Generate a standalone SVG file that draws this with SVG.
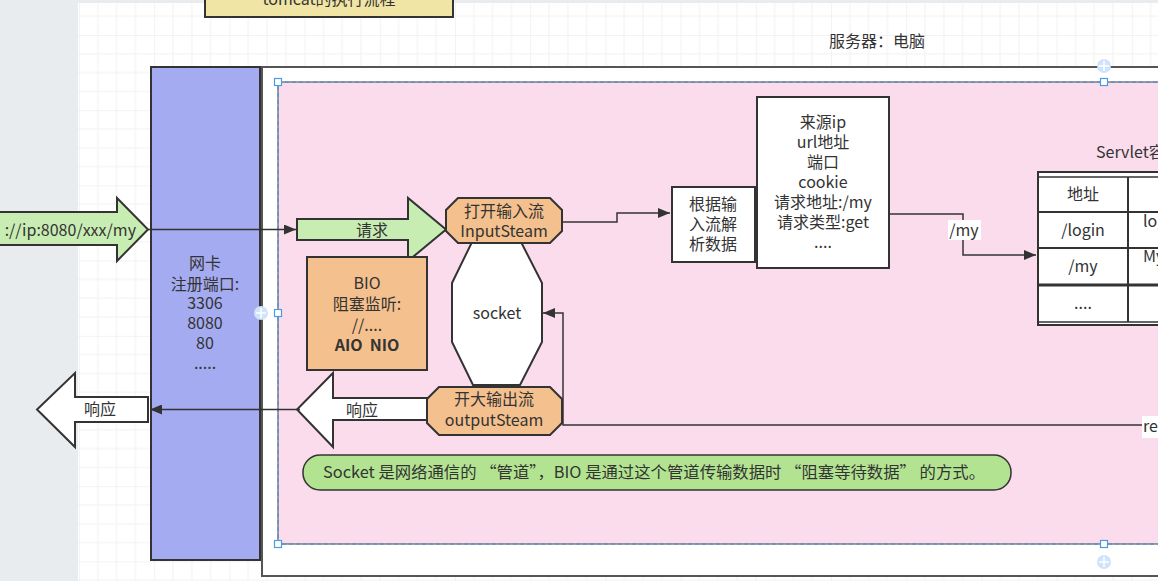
<svg xmlns="http://www.w3.org/2000/svg" width="1158" height="581" viewBox="0 0 1158 581">
  <style>
    text { font-family: "Noto Sans CJK SC", "Liberation Sans", sans-serif; fill: #333; font-size: 16px; }
    .c { text-anchor: middle; }
    .box { stroke: #333; stroke-width: 2; }
    .orange { fill: #f4c08d; }
    .wire { fill: none; stroke: #333; stroke-width: 1.5; }
    .handle { fill: #fff; stroke: #4a9be8; stroke-width: 1.2; }
    .hover { fill: #cfe3fb; }
    .plus { stroke: #fff; stroke-width: 1.5; }
  </style>
  <defs>
    <pattern id="grid" patternUnits="userSpaceOnUse" x="79" y="35" width="75.2" height="75.2">
      <path d="M0 18.8H75.2M0 37.6H75.2M0 56.4H75.2M18.8 0V75.2M37.6 0V75.2M56.4 0V75.2" stroke="#f2f2f2" stroke-width="1"/>
      <path d="M0 0H75.2M0 0V75.2" stroke="#e8e8e8" stroke-width="1"/>
    </pattern>
    <marker id="arr" viewBox="0 0 12 10" refX="12" refY="5" markerWidth="12" markerHeight="10" markerUnits="userSpaceOnUse" orient="auto">
      <path d="M0 0L12 5L0 10z" fill="#333"/>
    </marker>
  </defs>

  <!-- canvas -->
  <rect x="0" y="0" width="1158" height="581" fill="#e9ecee"/>
  <rect x="78" y="3" width="1080" height="578" fill="#fff"/>
  <rect x="78" y="3" width="1080" height="578" fill="url(#grid)"/>

  <!-- title note -->
  <g id="title">
    <rect x="205" y="-20" width="248" height="37" fill="#f0e5a5" class="box"/>
    <text x="329" y="5" class="c" font-size="18">tomcat的执行流程</text>
  </g>

  <g id="server-label">
    <text x="877" y="47" class="c">服务器：电脑</text>
  </g>

  <!-- server container -->
  <g id="server">
    <rect x="262" y="67" width="920" height="509" fill="#fff" stroke="#555" stroke-width="2"/>
  </g>

  <!-- tomcat area -->
  <g id="tomcat">
    <rect x="278" y="82" width="900" height="462" fill="#fadcec" stroke="#444" stroke-width="1"/>
    <rect x="278" y="82" width="900" height="462" fill="none" stroke="#3a8fe0" stroke-width="1" stroke-dasharray="4 3"/>
  </g>

  <!-- network card -->
  <g id="nic">
    <rect x="151" y="67" width="109" height="493" fill="#a5abf0" class="box"/>
    <text x="205" y="269" class="c">网卡</text>
    <text x="205" y="290" class="c">注册端口:</text>
    <text x="205" y="309" class="c">3306</text>
    <text x="205" y="329" class="c">8080</text>
    <text x="205" y="349" class="c">80</text>
    <text x="205" y="369" class="c">.....</text>
  </g>

  <!-- incoming request arrow -->
  <g id="req-outer">
    <path d="M-5 212H117V198L148 229.5L117 261V245H-5z" fill="#c8edb3" class="box"/>
    <text x="136" y="236" text-anchor="end" font-size="18.5">://ip:8080/xxx/my</text>
  </g>

  <!-- outgoing response arrow -->
  <g id="resp-outer">
    <path d="M148 397H75V373L37 409.5L75 447V422H148z" fill="#fff" class="box"/>
    <text x="100" y="415" class="c">响应</text>
  </g>

  <g id="req-inner">
    <path d="M297 219H408V198L446 229.5L408 261V240H297z" fill="#c8edb3" class="box"/>
    <text x="372" y="236" class="c">请求</text>
  </g>

  <g id="resp-inner">
    <path d="M428 398H333V373L297 409.5L333 447V420H428z" fill="#fff" class="box"/>
    <text x="362" y="416" class="c">响应</text>
  </g>

  <g id="bio">
    <rect x="307" y="257" width="120" height="113" class="box orange"/>
    <text x="367" y="289" class="c">BIO</text>
    <text x="367" y="310" class="c">阻塞监听:</text>
    <text x="367" y="331" class="c">//....</text>
    <text x="367" y="351" class="c" font-weight="bold" font-family="Liberation Sans, sans-serif" xml:space="preserve">AIO  NIO</text>
  </g>

  <g id="socket">
    <path d="M473 240H520L542 283V342L520 385H473L452 342V283z" fill="#fff" class="box"/>
    <text x="497" y="319" class="c">socket</text>
  </g>

  <g id="input-stream">
    <path d="M458 198H550L562 210V231L550 243H458L446 231V210z" class="box orange"/>
    <text x="504" y="217" class="c">打开输入流</text>
    <text x="504" y="237" class="c">InputSteam</text>
  </g>

  <g id="output-stream">
    <path d="M439 387H550L562 399V423L550 435H439L427 423V399z" class="box orange"/>
    <text x="494" y="405" class="c">开大输出流</text>
    <text x="494" y="426" class="c">outputSteam</text>
  </g>

  <g id="parse">
    <rect x="672" y="187" width="83" height="75" fill="#fff" class="box"/>
    <text x="713" y="210" class="c">根据输</text>
    <text x="713" y="230" class="c">入流解</text>
    <text x="713" y="250" class="c">析数据</text>
  </g>

  <g id="request-info">
    <rect x="757" y="97" width="132" height="171" fill="#fff" class="box"/>
    <text x="823" y="128" class="c">来源ip</text>
    <text x="823" y="148" class="c">url地址</text>
    <text x="823" y="168" class="c">端口</text>
    <text x="823" y="188" class="c">cookie</text>
    <text x="823" y="208" class="c">请求地址:/my</text>
    <text x="823" y="228" class="c">请求类型:get</text>
    <text x="823" y="248" class="c">....</text>
  </g>

  <g id="servlet-container">
    <text x="1096" y="158">Servlet容器</text>
    <rect x="1038" y="172" width="140" height="153" fill="#fff" class="box"/>
    <path d="M1038 177H1178M1038 322H1178" stroke="#333" stroke-width="1.5"/>
    <path d="M1038 212H1178M1038 248H1178" stroke="#333" stroke-width="2"/>
    <path d="M1038 285H1178" stroke="#333" stroke-width="3"/>
    <path d="M1128 177V322" stroke="#333" stroke-width="2"/>
    <text x="1083" y="200" class="c">地址</text>
    <text x="1083" y="236" class="c">/login</text>
    <text x="1083" y="272" class="c">/my</text>
    <text x="1083" y="309" class="c">....</text>
    <text x="1143" y="227">login</text>
    <text x="1143" y="262">MyServlet</text>
  </g>

  <g id="note">
    <rect x="303" y="455" width="708" height="35" rx="17" fill="#b2e391" stroke="#333" stroke-width="1.5"/>
    <text x="323" y="478" textLength="662" lengthAdjust="spacingAndGlyphs">Socket 是网络通信的 “管道”，BIO 是通过这个管道传输数据时 “阻塞等待数据” 的方式。</text>
  </g>

  <!-- connectors -->
  <g id="connectors">
    <path class="wire" d="M148 229.5H296" marker-end="url(#arr)"/>
    <path class="wire" d="M300 409.5H150" marker-end="url(#arr)"/>
    <path class="wire" d="M562 222H617V213H670" marker-end="url(#arr)"/>
    <path class="wire" d="M889 214H963V255H1036" marker-end="url(#arr)"/>
    <path class="wire" d="M1143 425H563V313H543" marker-end="url(#arr)"/>
    <rect x="948" y="220" width="33" height="20" fill="#fff"/>
    <text x="964" y="236" class="c">/my</text>
    <rect x="1142" y="416" width="20" height="22" fill="#fff"/>
    <text x="1143" y="432">re</text>
  </g>

  <!-- selection handles -->
  <g id="handles">
    <rect class="handle" x="274.5" y="78.5" width="7" height="7"/>
    <rect class="handle" x="274.5" y="309.5" width="7" height="7"/>
    <rect class="handle" x="274.5" y="540.5" width="7" height="7"/>
    <rect class="handle" x="1100.5" y="78.5" width="7" height="7"/>
    <rect class="handle" x="1100.5" y="540.5" width="7" height="7"/>
    <circle class="hover" cx="1104" cy="66" r="7"/>
    <path class="plus" d="M1099 66H1109M1104 61V71"/>
    <circle class="hover" cx="261" cy="313" r="7"/>
    <path class="plus" d="M256 313H266M261 308V318"/>
    <circle class="hover" cx="1104" cy="562" r="7"/>
    <path class="plus" d="M1099 562H1109M1104 557V567"/>
  </g>
</svg>
